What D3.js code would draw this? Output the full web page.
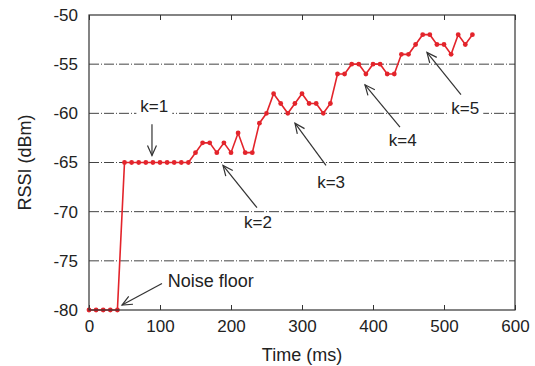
<!DOCTYPE html>
<html>
<head>
<meta charset="utf-8">
<script src="https://cdn.jsdelivr.net/npm/d3@7"></script>
<style>
  body { margin: 0; background: #fff; }
  text { font-family: "Liberation Sans", Arial, Helvetica, sans-serif; fill: #222; }
</style>
</head>
<body>
<svg id="chart" width="535" height="366"></svg>
<script>
// sample times (ms) and RSSI readings (dBm)
const times = [0, 10, 20, 30, 40, 50, 60, 70, 80, 90, 100, 110, 120, 130, 140,
  150, 160, 170, 180, 190, 200, 210, 220, 230, 240, 250, 260, 270, 280, 290,
  300, 310, 320, 330, 340, 350, 360, 370, 380, 390, 400, 410, 420, 430, 440,
  450, 460, 470, 480, 490, 500, 510, 520, 530, 540];
const rssi = [-80, -80, -80, -80, -80, -65, -65, -65, -65, -65, -65, -65, -65, -65, -65,
  -64, -63, -63, -64, -63, -64, -62, -64, -64, -61, -60, -58, -59, -60, -59,
  -58, -59, -59, -60, -59, -56, -56, -55, -55, -56, -55, -55, -56, -56, -54,
  -54, -53, -52, -52, -53, -53, -54, -52, -53, -52];

const xTicks = [0, 100, 200, 300, 400, 500, 600];
const yTicks = [-50, -55, -60, -65, -70, -75, -80];

// annotations in data coordinates: label centre, arrow start, arrow tip
const labels = ['k=1', 'k=2', 'k=3', 'k=4', 'k=5'];
const labelPos = [[92, -59.3], [238, -71.1], [341, -67.0], [442, -62.8], [530, -59.5]];
const arrowFrom = [[88.7, -61.1], [236.6, -69.6], [333.8, -65.3], [438, -61.4], [523.9, -58.1]];
const arrowTo = [[88.7, -64.3], [188.7, -65.3], [290.1, -61.0], [388.7, -57.1], [476, -53.8]];
const noiseLabel = [111, -77.0];
const noiseFrom = [102.8, -77.3];
const noiseTo = [46.5, -79.5];

const svg = d3.select('#chart');
const mLeft = 89, mRight = 515, mTop = 15, mBottom = 310;

const x = d3.scaleLinear().domain([0, 600]).range([mLeft, mRight]);
const y = d3.scaleLinear().domain([-80, -50]).range([mBottom, mTop]);

// dash-dot grid
svg.append('g')
  .selectAll('line')
  .data(yTicks.filter(d => d > -80 && d < -50))
  .join('line')
  .attr('x1', mLeft).attr('x2', mRight)
  .attr('y1', d => y(d)).attr('y2', d => y(d))
  .attr('stroke', '#444')
  .attr('stroke-width', 1)
  .attr('stroke-dasharray', '10,2,1,2');

// axes with inward ticks
const tickFont = 17, titleFont = 18;
svg.append('g')
  .attr('transform', `translate(0,${mBottom})`)
  .call(d3.axisBottom(x).tickValues(xTicks).tickSize(-5).tickPadding(10).tickFormat(d => String(d)))
  .call(g => g.select('.domain').remove())
  .call(g => g.selectAll('line').attr('stroke', '#333'))
  .call(g => g.selectAll('text').style('font-size', tickFont + 'px').attr('fill', '#222'));

svg.append('g')
  .attr('transform', `translate(0,${mTop})`)
  .call(d3.axisTop(x).tickValues(xTicks).tickSize(-5).tickFormat(''))
  .call(g => g.select('.domain').remove())
  .call(g => g.selectAll('line').attr('stroke', '#333'));

svg.append('g')
  .attr('transform', `translate(${mLeft},0)`)
  .call(d3.axisLeft(y).tickValues(yTicks).tickSize(0).tickPadding(11).tickFormat(d => String(d)))
  .call(g => g.select('.domain').remove())
  .call(g => g.selectAll('text').style('font-size', tickFont + 'px').attr('fill', '#222'));

// axis titles
svg.append('text')
  .attr('x', (mLeft + mRight) / 2).attr('y', 361)
  .attr('text-anchor', 'middle')
  .style('font-size', titleFont + 'px')
  .text('Time (ms)');

svg.append('text')
  .attr('transform', `translate(31,${(mTop + mBottom) / 2}) rotate(-90)`)
  .attr('text-anchor', 'middle')
  .style('font-size', titleFont + 'px')
  .text('RSSI (dBm)');

// data series
const pts = times.map((t, i) => [t, rssi[i]]);
const red = '#e3242b';
svg.append('path')
  .datum(pts)
  .attr('fill', 'none')
  .attr('stroke', red)
  .attr('stroke-width', 1.6)
  .attr('d', d3.line().x(d => x(d[0])).y(d => y(d[1])));

svg.append('g')
  .selectAll('circle')
  .data(pts)
  .join('circle')
  .attr('cx', d => x(d[0]))
  .attr('cy', d => y(d[1]))
  .attr('r', 2.4)
  .attr('fill', red);

// arrows
function arrow(from, to) {
  const x1 = x(from[0]), y1 = y(from[1]);
  const x2 = x(to[0]), y2 = y(to[1]);
  const a = Math.atan2(y2 - y1, x2 - x1);
  const len = 11, spread = 0.42;
  const g = svg.append('g').attr('stroke', '#333').attr('stroke-width', 1.2).attr('fill', 'none');
  g.append('line').attr('x1', x1).attr('y1', y1).attr('x2', x2).attr('y2', y2);
  g.append('path').attr('d',
    `M${x2 - len * Math.cos(a - spread)},${y2 - len * Math.sin(a - spread)}` +
    `L${x2},${y2}` +
    `L${x2 - len * Math.cos(a + spread)},${y2 - len * Math.sin(a + spread)}`);
}

labels.forEach((lab, i) => {
  const cx = x(labelPos[i][0]), cy = y(labelPos[i][1]);
  const t = svg.append('text')
    .attr('x', cx).attr('y', cy)
    .attr('text-anchor', 'middle')
    .attr('dominant-baseline', 'central')
    .style('font-size', tickFont + 'px')
    .text(lab);
  const b = t.node().getBBox();
  svg.insert('rect', () => t.node())
    .attr('x', b.x - 4).attr('y', b.y)
    .attr('width', b.width + 8).attr('height', b.height)
    .attr('fill', '#fff');
  arrow(arrowFrom[i], arrowTo[i]);
});

svg.append('text')
  .attr('x', x(noiseLabel[0])).attr('y', y(noiseLabel[1]))
  .attr('dominant-baseline', 'central')
  .style('font-size', titleFont + 'px')
  .text('Noise floor');
arrow(noiseFrom, noiseTo);

// frame
svg.append('rect')
  .attr('x', mLeft).attr('y', mTop)
  .attr('width', mRight - mLeft).attr('height', mBottom - mTop)
  .attr('fill', 'none')
  .attr('stroke', '#333')
  .attr('stroke-width', 1.2);
</script>
</body>
</html>
